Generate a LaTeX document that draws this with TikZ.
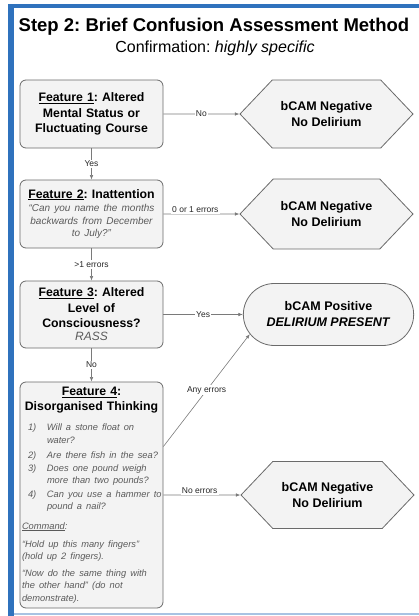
\documentclass[tikz,border=0pt]{standalone}
\usepackage{fontspec}
\setmainfont{Liberation Sans}
\usepackage{xcolor}
\usepackage{tikz}
\usetikzlibrary{positioning, shapes.misc, shapes.symbols, arrows.meta}
\definecolor{frameblue}{HTML}{2F72BD}
\definecolor{framelight}{HTML}{A8C3E3}
\definecolor{boxfill}{HTML}{F3F3F3}
\definecolor{boxline}{HTML}{6A6A6A}
\definecolor{linegray}{HTML}{7A7A7A}
\definecolor{quotegray}{HTML}{5A5A5A}
\frenchspacing

\newcommand{\quotetext}{\fontsize{10}{12.5}\selectfont\mdseries\itshape\color{quotegray}}
\newcommand{\itemtext}{\fontsize{9.3}{12.4}\selectfont\mdseries\itshape\color{quotegray}}

\begin{document}
\begin{tikzpicture}[x=1pt, y=-1pt,
  feature/.style={draw=boxline, fill=boxfill, line width=0.8pt, rounded corners=6pt,
                  minimum width=143pt, text width=139pt, inner sep=2pt, align=center,
                  font=\fontsize{12.3}{15.5}\selectfont\bfseries},
  negative/.style={signal, signal to=west and east, signal pointer angle=93,
                   draw=boxline, fill=boxfill, line width=0.8pt,
                   minimum width=173pt, minimum height=68pt, align=center,
                   font=\fontsize{12.5}{16}\selectfont\bfseries},
  positive/.style={rounded rectangle, draw=boxline, fill=boxfill, line width=0.8pt,
                   minimum width=177pt, minimum height=62pt, align=center,
                   font=\fontsize{12.5}{16}\selectfont\bfseries},
  arrow/.style={-{Latex[length=4.5pt,width=3.5pt]}, color=linegray, line width=0.6pt},
  lbl/.style={fill=white, inner sep=1.2pt, text=black!85,
              font=\fontsize{8.5}{10}\selectfont}
]
  \useasboundingbox (0,0) rectangle (419,616);

  % frame
  \fill[frameblue] (8,4) rectangle (14,616);
  \fill[frameblue] (8,4) rectangle (419,8);
  \fill[framelight] (14,612.5) rectangle (419,614.5);

  \node[font=\fontsize{18.5}{22}\selectfont\bfseries] (title) at (214,27)
    {Step 2: Brief Confusion Assessment Method};
  \node[font=\fontsize{16}{20}\selectfont] (subtitle) at (215,48)
    {Confirmation: \textit{highly specific}};

  % features
  \node[feature, minimum height=68pt] (f1) at (91.5,114)
    {\underline{Feature 1}: Altered\\Mental Status or\\Fluctuating Course};
  \node[feature, minimum height=68pt] (f2) at (91.5,214)
    {\underline{Feature 2}: Inattention\par\vspace{1pt}
     {\quotetext “Can you name the months\\backwards from December\\to July?”\par}};
  \node[feature, minimum height=67pt] (f3) at (91.5,314.5)
    {\underline{Feature 3}: Altered\\Level of\\Consciousness?\par
     {\quotetext\fontsize{12}{13}\selectfont RASS\par}};
  \node[feature, minimum height=226pt, align=left] (f4) at (91.5,495)
    {{\centering\underline{Feature 4}:\\Disorganised Thinking\par}
     \vspace{7.5pt}
     {\itemtext
      \begin{tabular}{@{\hspace{6pt}}p{19pt}@{}l@{}}
        1) & Will a stone float on\\
           & water?\\[2.5pt]
        2) & Are there fish in the sea?\\[1pt]
        3) & Does one pound weigh\\
           & more than two pounds?\\[1pt]
        4) & Can you use a hammer to\\
           & pound a nail?
      \end{tabular}\par
      \vspace{8pt}
      \underline{Command}:\par
      \vspace{6pt}
      “Hold up this many fingers”\\(hold up 2 fingers).\par
      \vspace{4pt}
      “Now do the same thing with\\the other hand” (do not\\demonstrate).\par}};

  % outcomes
  \node[negative] (neg1) at (326.5,114) {bCAM Negative\\No Delirium};
  \node[negative, minimum height=70pt] (neg2) at (326.5,214) {bCAM Negative\\No Delirium};
  \node[positive] (pos) at (328.5,314.5) {bCAM Positive\\\textit{DELIRIUM PRESENT}};
  \node[negative, minimum height=67pt] (neg3) at (327.5,495) {bCAM Negative\\No Delirium};

  % connectors
  \draw[arrow] (f1) -- node[lbl] {Yes} (f2);
  \draw[arrow] (f2) -- node[lbl] {>1 errors} (f3);
  \draw[arrow] (f3) -- node[lbl] {No} (f4);
  \draw[arrow] (f1) -- node[lbl] {No} (neg1);
  \draw[arrow] (f2) -- node[lbl, above, pos=0.42] {0 or 1 errors} (neg2);
  \draw[arrow] (f3) -- node[lbl] {Yes} (pos);
  \draw[arrow] (f4.34) -- node[lbl] {Any errors} (pos.194);
  \draw[arrow] (f4) -- node[lbl, above, pos=0.47] {No errors} (neg3);
\end{tikzpicture}
\end{document}
